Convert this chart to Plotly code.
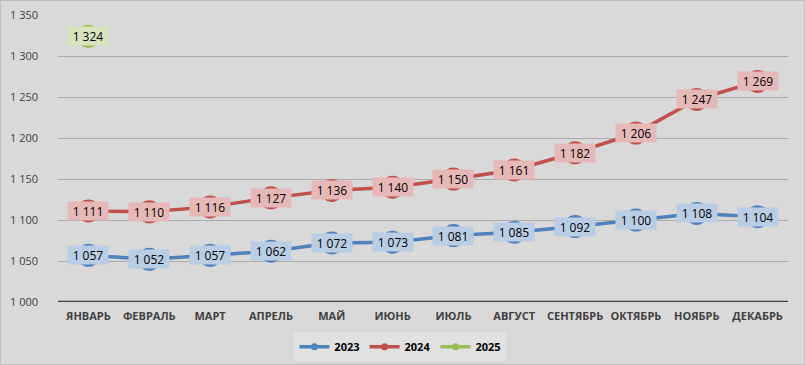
import plotly.graph_objects as go

months = ["ЯНВАРЬ", "ФЕВРАЛЬ", "МАРТ", "АПРЕЛЬ", "МАЙ", "ИЮНЬ", "ИЮЛЬ",
          "АВГУСТ", "СЕНТЯБРЬ", "ОКТЯБРЬ", "НОЯБРЬ", "ДЕКАБРЬ"]
v2023 = [1057, 1052, 1057, 1062, 1072, 1073, 1081, 1085, 1092, 1100, 1108, 1104]
v2024 = [1111, 1110, 1116, 1127, 1136, 1140, 1150, 1161, 1182, 1206, 1247, 1269]
v2025 = [1324]

series = [
    ("2023", v2023, "#4f81bd", "#b9cde5"),
    ("2024", v2024, "#c0504d", "#e6b9b8"),
    ("2025", v2025, "#9bbb59", "#d7e4bd"),
]

fig = go.Figure()
annotations = []
for name, vals, col, lab in series:
    xs = months[:len(vals)]
    fig.add_trace(go.Scatter(
        x=xs, y=vals, name=name, mode="lines+markers", showlegend=False,
        line=dict(color=col, width=3.5),
        marker=dict(size=23, color=col),
        hoverinfo="skip",
    ))
    for x, y in zip(xs, vals):
        annotations.append(dict(
            x=x, y=y, xref="x", yref="y", showarrow=False,
            text=f"{y:,}".replace(",", " "),
            font=dict(family="Open Sans, Arial", size=12, color="#000000"),
            bgcolor=lab, borderpad=1, width=38, height=16,
        ))
# legend-only entries with small markers
for name, vals, col, lab in series:
    fig.add_trace(go.Scatter(
        x=[None], y=[None], name=name, mode="lines+markers",
        line=dict(color=col, width=3.5), marker=dict(size=7, color=col),
    ))

fig.update_layout(
    width=805, height=365,
    paper_bgcolor="#d9d9d9", plot_bgcolor="#d9d9d9",
    margin=dict(l=58, r=17, t=15, b=63, autoexpand=False),
    separators=", ",
    showlegend=True,
    legend=dict(orientation="h", x=0.469, xanchor="center", y=-0.105, yanchor="top",
                bgcolor="#e1e1e1",
                font=dict(family="Open Sans, Arial", size=11, color="#000000", weight="bold"),
                itemwidth=30, tracegroupgap=0, traceorder="normal"),
    annotations=annotations,
    font=dict(family="Open Sans, Arial", color="#404040"),
    shapes=[dict(type="rect", xref="paper", yref="paper",
                 x0=-57.5/730, x1=1 + 16.5/730, y0=-62.5/287, y1=1 + 14.5/287,
                 line=dict(color="#bfbfbf", width=1), layer="below")],
)
fig.update_xaxes(
    type="category", showgrid=False, ticks="", range=[-0.5, len(months) - 0.5],
    tickfont=dict(size=11, color="#404040", weight="bold"),
    showline=False, zeroline=False, ticklabelstandoff=6,
)
fig.update_yaxes(
    range=[1000, 1350], dtick=50, tickformat=",d",
    showgrid=True, gridcolor="#ababab", gridwidth=1,
    tickfont=dict(size=11, color="#404040"),
    zeroline=False, showline=False, ticks="", ticklabelstandoff=19,
)
fig.add_hline(y=1000, line=dict(color="#404040", width=2.5), layer="below")

fig.write_html("out.html", config={"displayModeBar": False},
               post_script="document.body.style.margin='0';")
